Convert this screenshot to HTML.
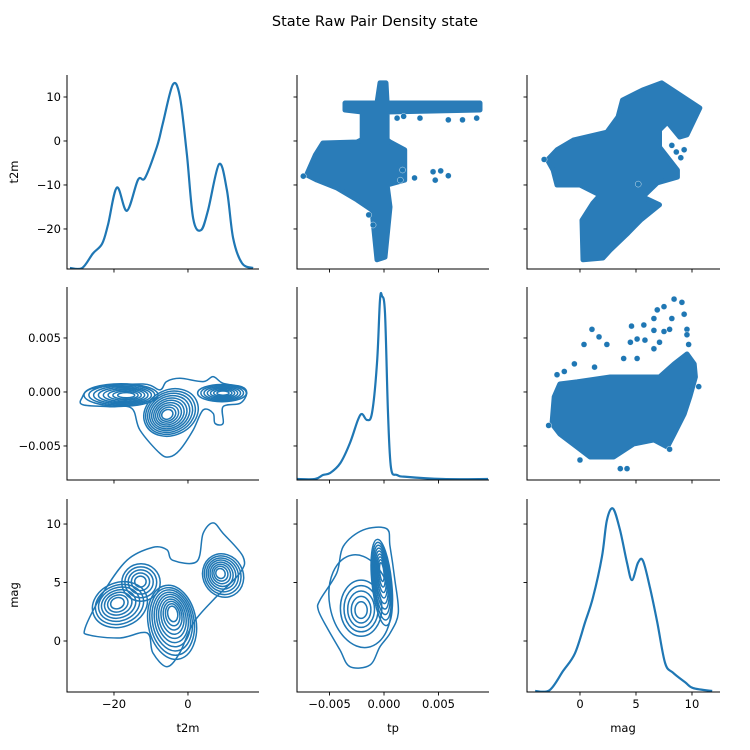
<!DOCTYPE html>
<html><head><meta charset="utf-8"><style>
body{margin:0;background:#fff}
svg{display:block;font-family:"DejaVu Sans","Liberation Sans",sans-serif}
</style></head><body>
<svg id="fig" width="750" height="750" viewBox="0 0 750 750" xmlns="http://www.w3.org/2000/svg">
<rect width="750" height="750" fill="#fff"/>
<text x="375" y="26" text-anchor="middle" font-size="14.5" fill="#000">State Raw Pair Density state</text>
</svg>
<script>
// ---------- data ----------
const t2mKdeX = [-31.9,-28.6,-25.7,-23.2,-21.6,-19.2,-16.5,-13.5,-11.6,-8.4,-6.8,-4.1,-2.2,-0.3,1.4,3.5,5.4,8.4,10.5,12.2,14.6,17.6];
const t2mKdeY = [0.005,0.005,0.08,0.13,0.23,0.42,0.30,0.46,0.47,0.63,0.75,0.95,0.89,0.59,0.26,0.20,0.30,0.54,0.41,0.16,0.03,0.005];
const tpKdeX = [-0.0080,-0.00633,-0.0056,-0.00495,-0.0040,-0.00312,-0.00239,-0.00202,-0.00156,-0.0011,-0.00064,-0.00037,-0.00018,0.00009,0.00037,0.00064,0.00119,0.00211,0.00541,0.00954];
const tpKdeY = [0.005,0.005,0.026,0.036,0.088,0.192,0.311,0.342,0.311,0.347,0.606,0.933,0.953,0.865,0.347,0.063,0.026,0.016,0.005,0.005];
const magKdeX = [-4.0,-2.7,-1.5,-0.45,0.45,1.16,1.96,2.4,2.95,3.57,4.2,4.64,5.18,5.63,6.25,6.9,7.6,8.3,9.4,10.1,11.8];
const magKdeY = [0.005,0.01,0.11,0.2,0.36,0.49,0.70,0.89,0.95,0.84,0.67,0.58,0.67,0.68,0.54,0.36,0.15,0.1,0.05,0.02,0.005];

const tpT2mDenseA_tp = [-0.0056,-0.00248,-0.00064,0.00055,0.0019,0.0019,0.00028,0.00055,0.00009,-0.00064,-0.0011,-0.00248,-0.0043,-0.00615,-0.0071,-0.0063];
const tpT2mDenseA_t2m = [-0.45,-0.23,2.0,-0.23,-2.0,-8.9,-10,-15,-26.4,-27,-15.7,-13.4,-10.7,-8.9,-7.7,-3.2];
const tpT2mDenseB_tp = [-0.00358,-0.00064,-0.00037,0.00018,0.00028,0.0088,0.0088,0.00028,0.00028,-0.002,-0.002,-0.00358];
const tpT2mDenseB_t2m = [8.64,8.64,13.2,13.2,8.64,8.64,7.05,6.6,-0.23,-0.23,6.6,7.05];
const tpT2mPts_tp = [0.0012,0.0018,0.0033,0.0059,0.0072,0.0085,-0.001,-0.0014,0.0045,0.0047,0.0052,0.0059,0.0028,-0.0074,0.0015,0.0017];
const tpT2mPts_t2m = [5.2,5.6,5.2,4.8,4.8,5.2,-19.1,-16.8,-7,-8.9,-6.8,-7.9,-8.4,-8,-8.9,-6.6];

const magT2mDense_mag = [7.3,10.7,9.55,8.9,7.8,7.1,7.1,8.7,8.7,6.9,5.6,7.1,5.4,4.3,2.7,2.05,0.27,0.18,1.16,1.8,0,-2.05,-2.4,-2.9,-2.05,-0.6,2.4,3.4,3.8,5.6];
const magT2mDense_t2m = [13.2,7.5,1.4,0.9,4.3,2.5,-1.4,-6.6,-8.2,-9.5,-12.7,-14.5,-18,-20.9,-24.8,-26.6,-27,-18,-14.1,-12.3,-10,-10,-6.6,-4.3,-2.0,0.2,2.0,5.5,9.3,11.6];
const magT2mPts_mag = [8.2,8.6,9.0,9.3,-3.2,5.2];
const magT2mPts_t2m = [-1.0,-2.5,-3.8,-2.0,-4.2,-9.8];

const magTpDense_mag = [-2.3,-1.8,-0.27,2.7,7.1,8.4,9.55,10.2,10.3,9.8,9.3,8.4,7.8,6.6,4.8,3.0,0.9,-0.27,-1.8,-2.5];
const magTpDense_tp = [-0.00046,0.00074,0.00093,0.00139,0.00139,0.00259,0.00352,0.00259,0.00139,-0.00046,-0.00204,-0.00389,-0.00509,-0.00444,-0.00481,-0.00602,-0.00602,-0.00509,-0.00389,-0.00296];
const magTpPts_mag = [8.4,9.1,7.5,6.9,6.6,8.2,9.3,1.07,4.6,5.7,6.6,9.55,1.7,0.36,2.4,4.5,5.1,5.8,7.5,8.0,7.1,6.6,9.55,9.7,3.9,5.1,-0.5,1.3,-2.05,-1.4,3.6,4.2,0,-2.8,10.6,8.0];
const magTpPts_tp = [0.0086,0.0083,0.0079,0.0076,0.0068,0.0068,0.0072,0.0058,0.0061,0.0062,0.0057,0.0058,0.0051,0.0044,0.0044,0.0046,0.0049,0.0048,0.0056,0.0058,0.0046,0.004,0.0053,0.0044,0.0031,0.0031,0.0026,0.0023,0.0016,0.0019,-0.0071,-0.0071,-0.0063,-0.0031,0.0005,-0.0053];

const t2mTpEnv_t2m = [-28.7,-25.6,-12.1,-7.6,-5.8,-2.2,4.1,6.8,9.5,14.5,15.9,14.1,9.5,9.5,7.3,6.8,4.1,1.4,-2.2,-4.9,-7.6,-13,-15.2,-21.1,-28.3];
const t2mTpEnv_tp = [-0.00058,0.00034,0.00074,0.00019,0.00096,0.00127,0.00096,0.00142,0.0008,0.00049,-0.00012,-0.00105,-0.00136,-0.0029,-0.0029,-0.00197,-0.00167,-0.00352,-0.00537,-0.006,-0.00568,-0.00352,-0.00151,-0.00136,-0.0012];
const t2mTpClCx = [-18.1,-4.6,9.2];
const t2mTpClCy = [-0.00028,-0.0019,-0.0001];
const t2mTpClRx = [10.0,7.6,6.6];
const t2mTpClRy = [0.00105,0.0021,0.0008];
const t2mTpClFx = [-16.5,-5.7,9.5];
const t2mTpClFy = [-0.0003,-0.0021,-0.0001];
const t2mTpClAng = [0,-25,0];
const t2mTpClN = [8,10,7];

const t2mMagEnv_t2m = [-27.8,-23,-16.5,-9.5,-5.7,-4.1,2.4,4.1,6.8,9.5,14.9,14,6.8,1.35,-2.2,-5.7,-9.5,-11.1,-18.4,-26.5];
const t2mMagEnv_mag = [1.1,4.1,6.9,8.0,7.8,6.9,6.8,9.2,10.1,9.2,7.2,5.8,3.5,1.5,-1.0,-2.2,-1.0,0.7,0.26,0.5];
const t2mMagClCx = [-18.4,-12.7,-4.3,9.5];
const t2mMagClCy = [3.1,5.0,1.6,5.6];
const t2mMagClRx = [7.6,5.2,6.5,5.4];
const t2mMagClRy = [1.9,1.6,3.2,1.9];
const t2mMagClFx = [-19.2,-12.9,-4.1,8.7];
const t2mMagClFy = [3.25,5.1,2.4,5.8];
const t2mMagClAng = [-20,0,-10,-30];
const t2mMagClN = [7,5,10,8];

const tpMagEnv_tp = [-0.00587,-0.00434,-0.00373,-0.0019,0.00024,0.00055,0.001,0.00131,0.00055,-0.00037,-0.00128,-0.00312,-0.00404,-0.00526,-0.00603];
const tpMagEnv_mag = [3.5,5.8,8.1,9.5,9.6,8.1,5.2,2.4,0.66,-0.49,-2.05,-2.2,-0.77,1.2,2.65];
const tpMagClCx = [-0.0002,-0.0021,-0.0022];
const tpMagClCy = [5.0,2.8,3.4];
const tpMagClRx = [0.0009,0.0019,0.0028];
const tpMagClRy = [3.7,2.4,4.0];
const tpMagClFx = [-0.0002,-0.0021,-0.0015];
const tpMagClFy = [6.0,2.6,3.4];
const tpMagClAng = [-6,0,-10];
const tpMagClN = [9,5,1];

const colDomains = [[-32.7,19.2],[-0.00798,0.00963],[-4.73,12.5]];
const rowDomains = [[-29.1,15],[-0.00815,0.00972],[-4.36,12.14]];
const t2mTicks = [-20,0];
const t2mRowTicks = [10,0,-10,-20];
const tpTicks = [-0.005,0,0.005];
const magColTicks = [0,5,10];
const magRowTicks = [10,5,0];
const varNames = ['t2m','tp','mag'];

// ---------- drawing ----------
const NS='http://www.w3.org/2000/svg';
const svg=document.getElementById('fig');
const colPx=[[67,259],[297,489],[527,720]];
const rowPx=[[75,269],[287,480],[499,692]];
const C='#1f77b4';
function mk(tag,attrs,parent){const e=document.createElementNS(NS,tag);for(const k in attrs)e.setAttribute(k,attrs[k]);(parent||svg).appendChild(e);return e;}
function sx(c,v){const d=colDomains[c],p=colPx[c];return p[0]+(v-d[0])/(d[1]-d[0])*(p[1]-p[0]);}
function sy(r,v){const d=rowDomains[r],p=rowPx[r];return p[1]-(v-d[0])/(d[1]-d[0])*(p[1]-p[0]);}
function fmt(v,c){if(c===1){const s=Math.abs(v).toFixed(3);return (v<0?'\u2212':'')+s;}return (v<0?'\u2212':'')+Math.abs(v);}
function smooth(pts,closed){
  const n=pts.length;let d='M'+pts[0][0].toFixed(1)+','+pts[0][1].toFixed(1);
  const g=i=>closed?pts[(i+n)%n]:pts[Math.max(0,Math.min(n-1,i))];
  const last=closed?n:n-1;
  for(let i=0;i<last;i++){const p0=g(i-1),p1=g(i),p2=g(i+1),p3=g(i+2);
    const c1=[p1[0]+(p2[0]-p0[0])/6,p1[1]+(p2[1]-p0[1])/6],c2=[p2[0]-(p3[0]-p1[0])/6,p2[1]-(p3[1]-p1[1])/6];
    d+='C'+c1[0].toFixed(1)+','+c1[1].toFixed(1)+' '+c2[0].toFixed(1)+','+c2[1].toFixed(1)+' '+p2[0].toFixed(1)+','+p2[1].toFixed(1);}
  return d+(closed?'Z':'');
}
function panel(r,c){
  const g=mk('g',{});
  
  
  const cp=mk('clipPath',{id:'cp'+r+c},g);
  mk('rect',{x:colPx[c][0],y:rowPx[r][0]-2,width:colPx[c][1]-colPx[c][0],height:rowPx[r][1]-rowPx[r][0]+2},cp);
  const inner=mk('g',{'clip-path':'url(#cp'+r+c+')'},g);
  return [g,inner];
}
function kde(r,c,xs,ys,name){
  const [g,inner]=panel(r,c);
  const h=rowPx[r][1]-rowPx[r][0];
  const pts=xs.map((x,i)=>[sx(c,x),rowPx[r][1]-ys[i]*h]);
  const p=mk('path',{d:smooth(pts,false),fill:'none',stroke:C,'stroke-width':2.2,'stroke-linejoin':'round'},inner);
  
  
}
function dense(inner,c,r,xs,ys,name){
  const pts=xs.map((x,i)=>sx(c,x).toFixed(1)+','+sy(r,ys[i]).toFixed(1)).join(' ');
  const p=mk('polygon',{points:pts,fill:'#2a7cb8',stroke:'#2a7cb8','stroke-width':5,'stroke-linejoin':'round'},inner);
  
  
}
function points(inner,c,r,xs,ys,name){
  xs.forEach((x,i)=>{const e=mk('circle',{cx:sx(c,x),cy:sy(r,ys[i]),r:3,fill:C,stroke:'#fff','stroke-width':0.4},inner);
    
    });
}
function contours(inner,c,r,ex,ey,cx,cy,rx,ry,fx,fy,ang,nl,name){
  const env=mk('path',{d:smooth(ex.map((x,i)=>[sx(c,x),sy(r,ey[i])]),true),fill:'none',stroke:C,'stroke-width':1.5},inner);
  
  
  cx.forEach((x,k)=>{
    const pxc=sx(c,x),pyc=sy(r,cy[k]),pfx=sx(c,fx[k]),pfy=sy(r,fy[k]);
    const prx=Math.abs(sx(c,x+rx[k])-pxc),pry=Math.abs(sy(r,cy[k]+ry[k])-pyc);
    for(let j=0;j<nl[k];j++){
      const t=j/nl[k],s=1-0.88*t;
      const ccx=pxc+(pfx-pxc)*t,ccy=pyc+(pfy-pyc)*t;
      const e=mk('ellipse',{cx:ccx.toFixed(1),cy:ccy.toFixed(1),rx:(prx*s).toFixed(1),ry:(pry*s).toFixed(1),fill:'none',stroke:C,'stroke-width':1.5,transform:'rotate('+ang[k]+' '+ccx.toFixed(1)+' '+ccy.toFixed(1)+')'},inner);
      
      
    }
  });
}
kde(0,0,t2mKdeX,t2mKdeY,'t2m-kde-curve');
kde(1,1,tpKdeX,tpKdeY,'tp-kde-curve');
kde(2,2,magKdeX,magKdeY,'mag-kde-curve');
{const [g,i]=panel(0,1);dense(i,1,0,tpT2mDenseA_tp,tpT2mDenseA_t2m,'scatter-dense-region');dense(i,1,0,tpT2mDenseB_tp,tpT2mDenseB_t2m,'scatter-dense-region');points(i,1,0,tpT2mPts_tp,tpT2mPts_t2m,'scatter-point');}
{const [g,i]=panel(0,2);dense(i,2,0,magT2mDense_mag,magT2mDense_t2m,'scatter-dense-region');points(i,2,0,magT2mPts_mag,magT2mPts_t2m,'scatter-point');}
{const [g,i]=panel(1,2);dense(i,2,1,magTpDense_mag,magTpDense_tp,'scatter-dense-region');points(i,2,1,magTpPts_mag,magTpPts_tp,'scatter-point');}
{const [g,i]=panel(1,0);contours(i,0,1,t2mTpEnv_t2m,t2mTpEnv_tp,t2mTpClCx,t2mTpClCy,t2mTpClRx,t2mTpClRy,t2mTpClFx,t2mTpClFy,t2mTpClAng,t2mTpClN,'t2m-tp-kde');}
{const [g,i]=panel(2,0);contours(i,0,2,t2mMagEnv_t2m,t2mMagEnv_mag,t2mMagClCx,t2mMagClCy,t2mMagClRx,t2mMagClRy,t2mMagClFx,t2mMagClFy,t2mMagClAng,t2mMagClN,'t2m-mag-kde');}
{const [g,i]=panel(2,1);contours(i,1,2,tpMagEnv_tp,tpMagEnv_mag,tpMagClCx,tpMagClCy,tpMagClRx,tpMagClRy,tpMagClFx,tpMagClFy,tpMagClAng,tpMagClN,'tp-mag-kde');}

const xTicks=[t2mTicks,tpTicks,magColTicks];
const yTicks=[t2mRowTicks,tpTicks,magRowTicks];
for(let r=0;r<3;r++)for(let c=0;c<3;c++){
  const x0=colPx[c][0],x1=colPx[c][1],y0=rowPx[r][0],y1=rowPx[r][1];
  const ax=mk('path',{d:`M${x0},${y0}V${y1}H${x1}`,fill:'none',stroke:'#000','stroke-width':1});
  
  
  xTicks[c].forEach(v=>{const X=sx(c,v);mk('line',{x1:X,x2:X,y1:y1,y2:y1+3.5,stroke:'#000','stroke-width':0.9});
    if(r===2){const t=mk('text',{x:X,y:y1+16,'text-anchor':'middle','font-size':11.5,fill:'#000'});t.textContent=fmt(v,c);
      
      }});
  yTicks[r].forEach(v=>{const Y=sy(r,v);mk('line',{x1:x0-3.5,x2:x0,y1:Y,y2:Y,stroke:'#000','stroke-width':0.9});
    if(c===0){const t=mk('text',{x:x0-6,y:Y+4,'text-anchor':'end','font-size':11.5,fill:'#000'});t.textContent=fmt(v,r);
      
      }});
}
[['t2m',188],['tp',393],['mag',623]].forEach(([n,x])=>{const t=mk('text',{x:x,y:732,'text-anchor':'middle','font-size':11.5,fill:'#000'});t.textContent=n;
  
  });
[['t2m',172],['mag',595]].forEach(([n,y])=>{const t=mk('text',{x:18,y:y,'text-anchor':'middle','font-size':11.5,fill:'#000',transform:`rotate(-90 18 ${y})`});t.textContent=n;
  
  });
</script>
</body></html>
